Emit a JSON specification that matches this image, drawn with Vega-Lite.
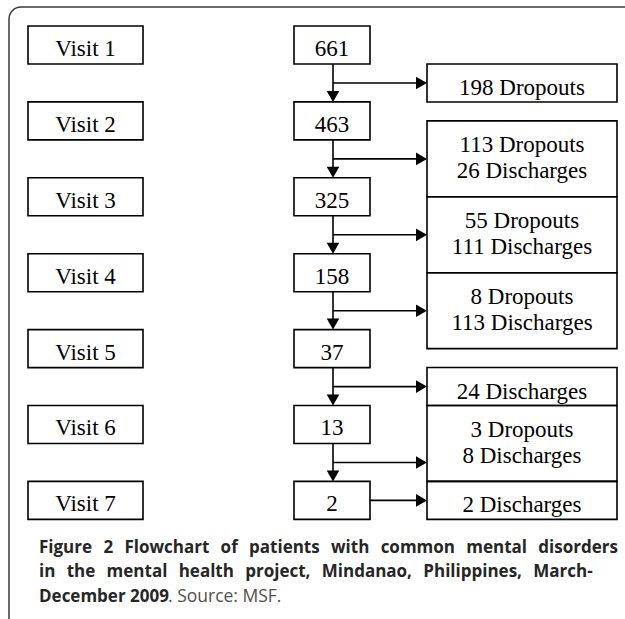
{
  "$schema": "https://vega.github.io/schema/vega-lite/v6.json",
  "width": 625,
  "height": 619,
  "padding": 0,
  "autosize": {"type": "fit", "contains": "padding"},
  "background": "white",
  "config": {"view": {"stroke": null}},
  "datasets": {
    "visits": [
      {"visit": 1, "label": "Visit 1", "n": "661"},
      {"visit": 2, "label": "Visit 2", "n": "463"},
      {"visit": 3, "label": "Visit 3", "n": "325"},
      {"visit": 4, "label": "Visit 4", "n": "158"},
      {"visit": 5, "label": "Visit 5", "n": "37"},
      {"visit": 6, "label": "Visit 6", "n": "13"},
      {"visit": 7, "label": "Visit 7", "n": "2"}
    ],
    "links": [
      {"from": 1, "to": 2},
      {"from": 2, "to": 3},
      {"from": 3, "to": 4},
      {"from": 4, "to": 5},
      {"from": 5, "to": 6},
      {"from": 6, "to": 7}
    ],
    "outcomes": [
      {"top": 1.25, "bottom": 1.75, "text": ["198 Dropouts"]},
      {"top": 2, "bottom": 3, "text": ["113 Dropouts", "26 Discharges"]},
      {"top": 3, "bottom": 4, "text": ["55 Dropouts", "111 Discharges"]},
      {"top": 4, "bottom": 5, "text": ["8 Dropouts", "113 Discharges"]},
      {"top": 5.25, "bottom": 5.75, "text": ["24 Discharges"]},
      {"top": 5.75, "bottom": 6.75, "text": ["3 Dropouts", "8 Discharges"]},
      {"top": 6.75, "bottom": 7.25, "text": ["2 Discharges"]}
    ],
    "caption": [
      {"title": ["Figure\u2002\u20092\u2002\u2009Flowchart\u2002\u2009of\u2002\u2009patients\u2002\u2009with\u2002\u2009common\u2002\u2009mental\u2002\u2009disorders", "in\u2002\u2009the\u2002\u2009mental\u2002\u2009health\u2002\u2009project,\u2002\u2009Mindanao,\u2002\u2009Philippines,\u2002\u2009March-", "December 2009"], "source": ". Source: MSF."}
    ]
  },
  "layer": [
    {
      "data": {"values": [{}]},
      "mark": {"type": "rect", "filled": false, "stroke": "#3a3a3a", "strokeWidth": 1.5, "cornerRadius": 12, "clip": true},
      "encoding": {
        "x": {"datum": 9, "type": "quantitative", "scale": {"domain": [0, 625], "nice": false, "zero": false}, "axis": null},
        "x2": {"datum": 700},
        "y": {"datum": 0.5, "type": "quantitative", "scale": {"domain": [0.4071, 8.5626], "reverse": true, "nice": false, "zero": false}, "axis": null},
        "y2": {"datum": 9}
      }
    },
    {
      "data": {"name": "visits"},
      "mark": {"type": "rect", "filled": false, "stroke": "black", "strokeWidth": 1.6, "yOffset": -19, "y2Offset": 19},
      "encoding": {
        "x": {"datum": 28, "type": "quantitative"},
        "x2": {"datum": 143},
        "y": {"field": "visit", "type": "quantitative"},
        "y2": {"field": "visit"}
      }
    },
    {
      "data": {"name": "visits"},
      "mark": {"type": "rect", "filled": false, "stroke": "black", "strokeWidth": 1.6, "yOffset": -19, "y2Offset": 19},
      "encoding": {
        "x": {"datum": 294, "type": "quantitative"},
        "x2": {"datum": 370},
        "y": {"field": "visit", "type": "quantitative"},
        "y2": {"field": "visit"}
      }
    },
    {
      "data": {"name": "outcomes"},
      "mark": {"type": "rect", "filled": false, "stroke": "black", "strokeWidth": 1.6},
      "encoding": {
        "x": {"datum": 427, "type": "quantitative"},
        "x2": {"datum": 617},
        "y": {"field": "top", "type": "quantitative"},
        "y2": {"field": "bottom"}
      }
    },
    {
      "data": {"name": "visits"},
      "mark": {"type": "text", "font": "Liberation Serif", "fontSize": 23, "color": "black", "align": "center", "baseline": "alphabetic", "dy": 11},
      "encoding": {
        "x": {"datum": 85.5, "type": "quantitative"},
        "y": {"field": "visit", "type": "quantitative"},
        "text": {"field": "label"}
      }
    },
    {
      "data": {"name": "visits"},
      "mark": {"type": "text", "font": "Liberation Serif", "fontSize": 23, "color": "black", "align": "center", "baseline": "alphabetic", "dy": 11},
      "encoding": {
        "x": {"datum": 332, "type": "quantitative"},
        "y": {"field": "visit", "type": "quantitative"},
        "text": {"field": "n"}
      }
    },
    {
      "data": {"name": "outcomes"},
      "mark": {"type": "text", "font": "Liberation Serif", "fontSize": 23, "color": "black", "align": "center", "baseline": "alphabetic", "dy": 31, "lineHeight": 26},
      "encoding": {
        "x": {"datum": 522, "type": "quantitative"},
        "y": {"field": "top", "type": "quantitative"},
        "text": {"field": "text"}
      }
    },
    {
      "data": {"name": "links"},
      "mark": {"type": "rule", "color": "black", "strokeWidth": 1.6, "yOffset": 19, "y2Offset": -22},
      "encoding": {
        "x": {"datum": 333, "type": "quantitative"},
        "y": {"field": "from", "type": "quantitative"},
        "y2": {"field": "to"}
      }
    },
    {
      "data": {"name": "links"},
      "mark": {"type": "point", "shape": "triangle-down", "filled": true, "color": "black", "opacity": 1, "strokeWidth": 0, "size": 160, "yOffset": -24.5},
      "encoding": {
        "x": {"datum": 333, "type": "quantitative"},
        "y": {"field": "to", "type": "quantitative"}
      }
    },
    {
      "data": {"name": "links"},
      "mark": {"type": "rule", "color": "black", "strokeWidth": 1.6, "yOffset": 38},
      "encoding": {
        "x": {"datum": 333, "type": "quantitative"},
        "x2": {"datum": 422},
        "y": {"field": "from", "type": "quantitative"}
      }
    },
    {
      "data": {"name": "links"},
      "mark": {"type": "point", "shape": "triangle-right", "filled": true, "color": "black", "opacity": 1, "strokeWidth": 0, "size": 160, "yOffset": 38, "xOffset": -5.5},
      "encoding": {
        "x": {"datum": 427, "type": "quantitative"},
        "y": {"field": "from", "type": "quantitative"}
      }
    },
    {
      "data": {"name": "visits"},
      "transform": [{"filter": "datum.visit == 7"}],
      "mark": {"type": "rule", "color": "black", "strokeWidth": 1.6},
      "encoding": {
        "x": {"datum": 370, "type": "quantitative"},
        "x2": {"datum": 422},
        "y": {"field": "visit", "type": "quantitative"}
      }
    },
    {
      "data": {"name": "visits"},
      "transform": [{"filter": "datum.visit == 7"}],
      "mark": {"type": "point", "shape": "triangle-right", "filled": true, "color": "black", "opacity": 1, "strokeWidth": 0, "size": 160, "xOffset": -5.5},
      "encoding": {
        "x": {"datum": 427, "type": "quantitative"},
        "y": {"field": "visit", "type": "quantitative"}
      }
    },
    {
      "data": {"name": "caption"},
      "mark": {"type": "text", "font": "Open Sans", "fontWeight": "bold", "fontSize": 17, "color": "#262626", "align": "left", "baseline": "alphabetic", "lineHeight": 24.5},
      "encoding": {
        "x": {"datum": 39, "type": "quantitative"},
        "y": {"datum": 7.693, "type": "quantitative"},
        "text": {"field": "title"}
      }
    },
    {
      "data": {"name": "caption"},
      "mark": {"type": "text", "font": "Open Sans", "fontWeight": "normal", "fontSize": 17.5, "color": "#505050", "align": "left", "baseline": "alphabetic"},
      "encoding": {
        "x": {"datum": 168, "type": "quantitative"},
        "y": {"datum": 8.339, "type": "quantitative"},
        "text": {"field": "source"}
      }
    }
  ]
}
